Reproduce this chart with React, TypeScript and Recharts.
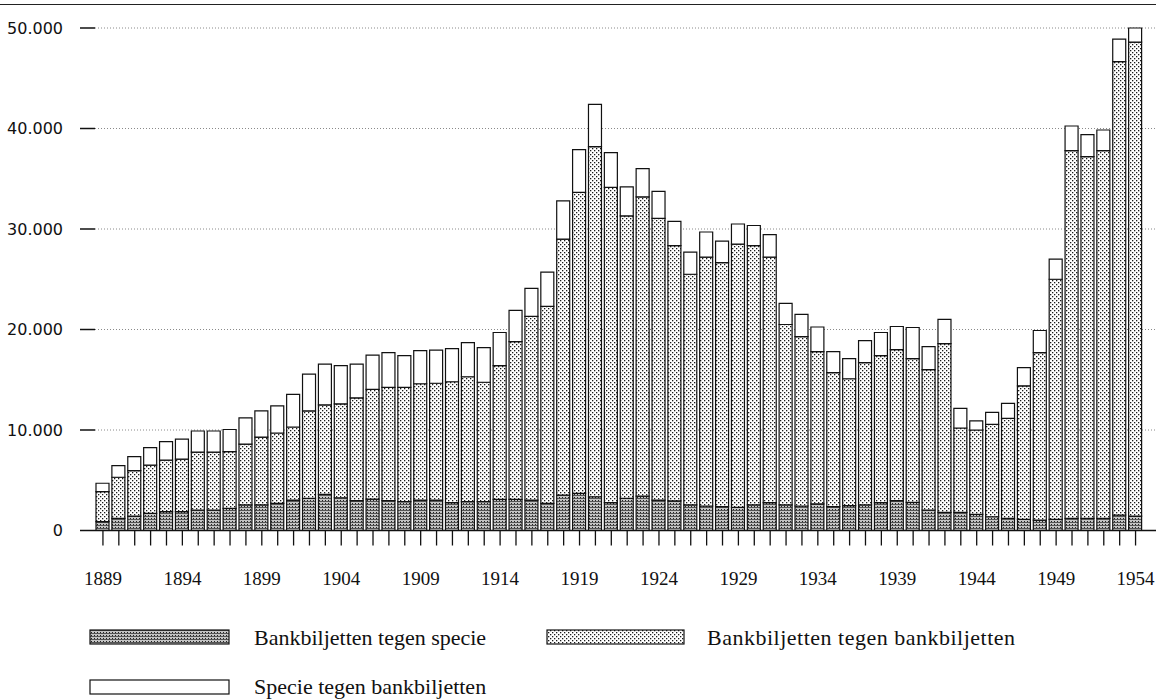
import React from 'react';
import { BarChart, Bar, XAxis, YAxis, CartesianGrid } from 'recharts';

// Jaren 1889 t/m 1954
const years = [
  1889, 1890, 1891, 1892, 1893, 1894, 1895, 1896, 1897, 1898,
  1899, 1900, 1901, 1902, 1903, 1904, 1905, 1906, 1907, 1908,
  1909, 1910, 1911, 1912, 1913, 1914, 1915, 1916, 1917, 1918,
  1919, 1920, 1921, 1922, 1923, 1924, 1925, 1926, 1927, 1928,
  1929, 1930, 1931, 1932, 1933, 1934, 1935, 1936, 1937, 1938,
  1939, 1940, 1941, 1942, 1943, 1944, 1945, 1946, 1947, 1948,
  1949, 1950, 1951, 1952, 1953, 1954,
];

// Bankbiljetten tegen specie (onderste deel)
const bankTegenSpecie = [
  880, 1200, 1440, 1700, 1870, 1870, 2040, 2040, 2200, 2540,
  2540, 2700, 3030, 3200, 3600, 3260, 2970, 3130, 2970, 2870,
  3030, 3030, 2770, 2870, 2870, 3100, 3100, 3030, 2700, 3530,
  3700, 3360, 2770, 3200, 3430, 3030, 2940, 2540, 2440, 2370,
  2300, 2540, 2770, 2540, 2440, 2640, 2370, 2470, 2540, 2770,
  2970, 2800, 2040, 1810, 1810, 1610, 1370, 1200, 1100, 1040,
  1100, 1200, 1200, 1200, 1540, 1440,
];

// Bankbiljetten tegen bankbiljetten (middelste deel)
const bankTegenBank = [
  2980, 4100, 4510, 4800, 5130, 5230, 5760, 5760, 5650, 6060,
  6760, 7000, 7270, 8700, 8900, 9340, 10230, 10920, 11280, 11380,
  11570, 11620, 12030, 12430, 11880, 13300, 15700, 18270, 19600, 25470,
  29950, 34840, 31380, 28100, 29770, 28020, 25410, 22960, 24760, 24280,
  26200, 25810, 24430, 17960, 16860, 15160, 13330, 12630, 14160, 14630,
  15030, 14300, 13960, 16790, 8390, 8390, 9180, 9950, 13300, 16660,
  23900, 36600, 36000, 36600, 45110, 47160,
];

// Specie tegen bankbiljetten (bovenste deel)
const specieTegenBank = [
  840, 1150, 1400, 1750, 1850, 2000, 2100, 2100, 2200, 2600,
  2600, 2700, 3250, 3650, 4050, 3800, 3350, 3400, 3450, 3150,
  3300, 3300, 3300, 3400, 3450, 3300, 3100, 2800, 3400, 3800,
  4250, 4200, 3450, 2900, 2800, 2700, 2400, 2200, 2500, 2150,
  2000, 2000, 2250, 2100, 2200, 2450, 2100, 2000, 2200, 2300,
  2300, 3100, 2300, 2400, 1950, 900, 1200, 1500, 1800, 2200,
  2000, 2450, 2200, 2050, 2250, 1400,
];

const yTicks = [0, 10000, 20000, 30000, 40000, 50000];

const data = years.map((year, i) => ({
  year,
  specie: bankTegenSpecie[i],
  bank: bankTegenBank[i],
  tegen: specieTegenBank[i],
}));

const fmt = (v: number) => String(v).replace(/\B(?=(\d{3})+(?!\d))/g, '.');

const serif = '"Liberation Serif", "Times New Roman", serif';

export default function App() {
  return (
    <div style={{ position: 'absolute', left: 0, top: 0, width: 1156, height: 700, background: '#fff' }}>
      {/* lijn bovenaan */}
      <div style={{ position: 'absolute', left: 0, top: 4, width: 1156, height: 0, borderTop: '1.5px solid #222' }} />

      <svg width={0} height={0} style={{ position: 'absolute' }}>
        <defs>
          <pattern id="patDark" width={3} height={3} patternUnits="userSpaceOnUse">
            <rect width={3} height={3} fill="#c4c4c4" />
            <rect x={0} y={0} width={3} height={1} fill="#555" />
            <rect x={1} y={2} width={1} height={1} fill="#222" />
          </pattern>
          <pattern id="patLight" width={4} height={4} patternUnits="userSpaceOnUse">
            <rect width={4} height={4} fill="#fff" />
            <rect x={0} y={0} width={1.3} height={1.3} fill="#1a1a1a" />
            <rect x={2} y={2} width={1.3} height={1.3} fill="#1a1a1a" />
          </pattern>
        </defs>
      </svg>

      <BarChart
        width={1156}
        height={700}
        data={data}
        margin={{ top: 28, right: 0, left: 0, bottom: 109.5 }}
        barSize={13}
      >
        <CartesianGrid vertical={false} stroke="#8a8a8a" strokeDasharray="1 2" strokeWidth={1} />
        <XAxis
          dataKey="year"
          interval={0}
          height={60}
          padding={{ left: 0, right: 12.5 }}
          tickSize={15}
          tickMargin={26}
          axisLine={{ stroke: '#111', strokeWidth: 1.5 }}
          tickLine={{ stroke: '#111', strokeWidth: 1.3 }}
          tickFormatter={(y: number) => ((y - 1889) % 5 === 0 ? String(y) : '')}
          tick={{ fill: '#111', fontSize: 19, fontFamily: serif }}
        />
        <YAxis
          width={95}
          domain={[0, 50000]}
          ticks={yTicks}
          axisLine={false}
          tickSize={15}
          tickMargin={17}
          tickLine={{ stroke: '#111', strokeWidth: 1.5 }}
          tickFormatter={fmt}
          tick={{ fill: '#111', fontSize: 16, fontFamily: '"DejaVu Sans", sans-serif' }}
        />
        <Bar dataKey="specie" stackId="a" fill="url(#patDark)" stroke="#111" strokeWidth={1.2} isAnimationActive={false} />
        <Bar dataKey="bank" stackId="a" fill="url(#patLight)" stroke="#111" strokeWidth={1.2} isAnimationActive={false} />
        <Bar dataKey="tegen" stackId="a" fill="#fff" stroke="#111" strokeWidth={1.2} isAnimationActive={false} />
      </BarChart>

      {/* legenda */}
      <svg width={1156} height={100} style={{ position: 'absolute', left: 0, top: 600 }}>
        <g fontFamily={serif} fontSize={22} fill="#111">
          <rect x={90} y={30} width={139} height={14} fill="url(#patDark)" stroke="#111" strokeWidth={1.2} />
          <text x={254} y={45}>Bankbiljetten tegen specie</text>
          <rect x={547} y={30} width={137} height={14} fill="url(#patLight)" stroke="#111" strokeWidth={1.2} />
          <text x={707} y={45} letterSpacing={0.5}>Bankbiljetten tegen bankbiljetten</text>
          <rect x={90} y={80} width={139} height={14} fill="#fff" stroke="#111" strokeWidth={1.2} />
          <text x={254} y={94}>Specie tegen bankbiljetten</text>
        </g>
      </svg>
    </div>
  );
}
